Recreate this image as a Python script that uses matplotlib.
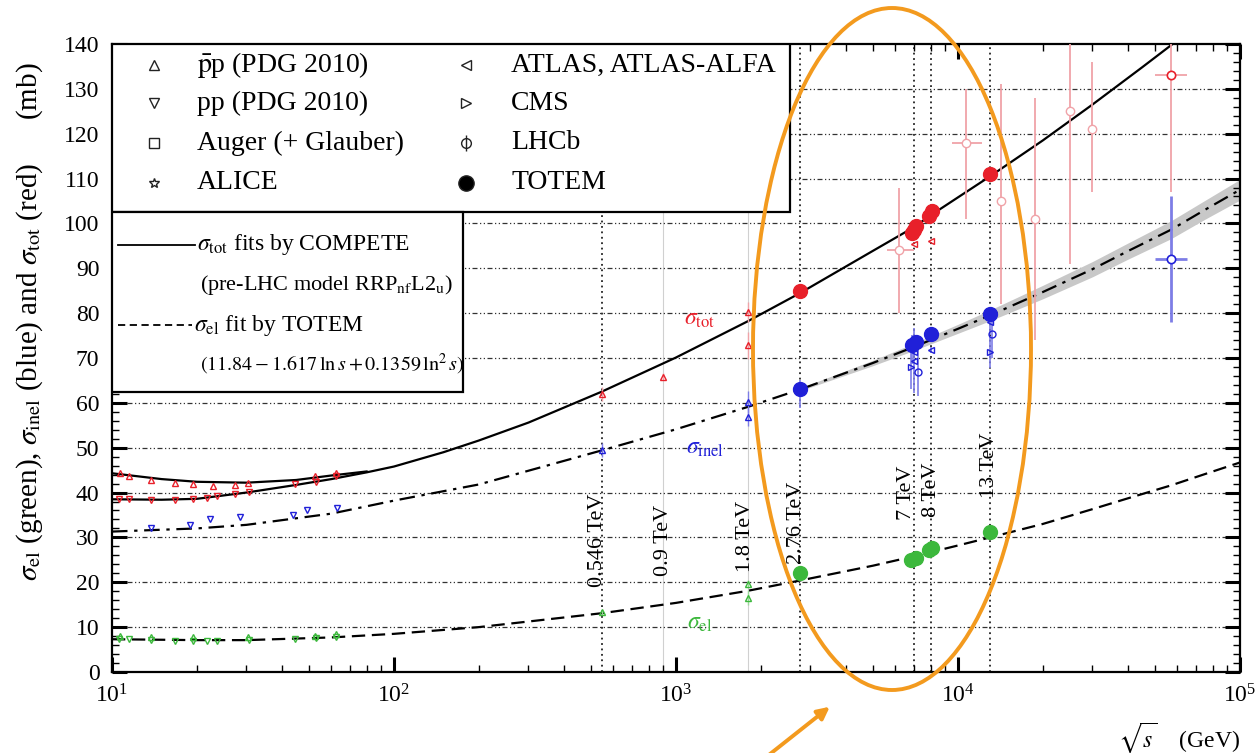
import matplotlib
matplotlib.use('Agg')  # no display
import matplotlib.pyplot as plt
from matplotlib.patches import Rectangle, Ellipse, FancyArrowPatch
from matplotlib.ticker import MultipleLocator, LogLocator
import numpy as np

plt.rcParams['font.family'] = ['Liberation Serif', 'DejaVu Serif']
plt.rcParams['mathtext.fontset'] = 'stix'

# ---- fit curves ----
fit_rs = [10, 20, 30, 60, 100, 200, 546, 1000, 1800, 2760, 5000, 7000, 10000,
          13000, 20000, 30000, 40000, 57000, 75000, 100000]
inel_fit = [31.3, 32.0, 32.8, 35.3, 38.2, 41.8, 49.4, 54.1, 59.1, 63.0, 68.9,
            72.5, 76.5, 79.5, 84.7, 89.8, 93.8, 98.6, 103.0, 107.5]
el_fit = [7.3, 7.1, 7.1, 7.7, 8.5, 10.0, 13.1, 15.4, 18.1, 20.4, 23.7, 25.8,
          28.2, 30.0, 33.0, 36.3, 38.7, 41.6, 44.1, 46.7]
inel_band_half = [0.3, 0.6, 0.8, 1.0, 1.2, 1.5, 1.7, 1.8, 2.0, 2.1, 2.3]  # from 2.76 TeV on

tot_fit_rs = [10, 15, 20, 30, 45, 60, 80, 100, 150, 200, 300, 546, 1000, 1800,
              2760, 5000, 7000, 8000, 10000, 13000, 20000, 30000, 45000, 60000]
tot_fit_pp = [38.5, 38.4, 38.6, 40.0, 41.7, 43.0, 44.5, 45.8, 49.0, 51.6, 55.6,
              62.5, 70.1, 78.2, 84.5, 93.9, 99.2, 101.8, 105.8, 110.5, 118.5,
              126.5, 134.8, 140.8]
tot_fit_pbarp_rs = [10, 15, 20, 30, 45, 60, 80]
tot_fit_pbarp = [44.3, 43.0, 42.4, 42.2, 42.8, 43.8, 44.7]

# ---- low energy data (PDG 2010) ----
pbarp_tot_rs = [10.7, 11.5, 13.8, 16.8, 19.4, 22.9, 27.4, 30.4, 52.6, 62.3]
pbarp_tot = [44.4, 43.6, 42.9, 42.2, 41.8, 41.5, 41.6, 42.1, 43.6, 44.3]
pp_tot_rs = [10.6, 11.5, 13.8, 16.8, 19.4, 21.7, 23.5, 27.4, 30.6, 44.7, 52.8, 62.5]
pp_tot = [38.6, 38.5, 38.4, 38.4, 38.6, 38.8, 39.3, 39.6, 40.1, 41.8, 42.4, 43.6]
pp_inel_rs = [13.8, 18.9, 22.3, 28.4, 43.8, 49.0, 62.7]
pp_inel = [32.0, 32.8, 34.0, 34.5, 35.0, 36.0, 36.5]
pp_el_rs = [10.6, 11.5, 13.8, 16.8, 19.4, 21.7, 23.5, 30.6, 44.7, 52.8, 62.5]
pp_el = [7.3, 7.3, 7.1, 7.0, 7.0, 7.0, 6.9, 7.2, 7.3, 7.5, 7.9]
pbarp_el_rs = [10.7, 13.8, 19.4, 30.4, 52.6, 62.3]
pbarp_el = [8.1, 7.8, 7.7, 7.9, 8.0, 8.4]

# SppS / Tevatron
coll_tot_rs = [546, 900, 1800, 1800]
coll_tot = [62.0, 65.8, 80.2, 72.8]
coll_tot_err = [1.5, 0.8, 2.2, 3.1]
coll_inel_rs = [546, 1800, 1800]
coll_inel = [49.5, 60.2, 56.8]
coll_inel_err = [1.5, 2.4, 2.0]
coll_el_rs = [546, 1800, 1800]
coll_el = [13.3, 19.7, 16.6]
coll_el_err = [0.6, 0.9, 1.6]

# cosmic rays
cr_rs = [6200, 10700, 14200, 18700, 24900, 30000]
cr_tot = [94, 118, 105, 101, 125, 121]
cr_err_lo = [14, 17, 23, 27, 34, 14]
cr_err_hi = [14, 12, 26, 27, 35, 15]
cr_rs_lo = [5600, 9500, 14200, 18700, 24900, 30000]
cr_rs_hi = [7000, 12200, 14200, 18700, 24900, 30000]

auger_rs = [57000]
auger_rs_lo = [50000]
auger_rs_hi = [65000]
auger_tot = [133]
auger_tot_err = [26]
auger_inel = [92]
auger_inel_err = [14]

# LHC experiments
atlas_tot_rs = [7000, 8000]
atlas_tot = [95.4, 96.1]
atlas_inel_rs = [7000, 7000, 8000, 13000]
atlas_inel = [69.4, 71.3, 71.7, 78.1]
atlas_inel_err = [7.3, 0.9, 0.7, 2.9]
cms_inel_rs = [6800, 13000]
cms_inel = [68.0, 71.3]
cms_inel_err = [5.0, 3.5]
alice_inel_rs = [2760, 6900]
alice_inel = [62.8, 73.2]
alice_err_lo = [4.0, 4.6]
alice_err_hi = [2.4, 2.0]
lhcb_inel_rs = [7200, 13200]
lhcb_inel = [66.9, 75.4]
lhcb_inel_err = [5.3, 5.4]

totem_tot_rs = [2760, 6900, 7000, 7100, 7900, 8100, 13000]
totem_tot = [85.0, 97.8, 98.6, 99.4, 101.6, 102.8, 111.0]
totem_inel_rs = [2760, 6900, 7100, 8000, 13000]
totem_inel = [63.0, 72.9, 73.5, 75.3, 79.8]
totem_el_rs = [2760, 6800, 7100, 7900, 8100, 13000]
totem_el = [22.0, 25.0, 25.4, 27.1, 27.7, 31.1]

energy_lines = [546, 2760, 7000, 8000, 13000]
energy_faint = [900, 1800]
energy_labels = ['0.546 TeV', '0.9 TeV', '1.8 TeV', '2.76 TeV', '7 TeV', '8 TeV', '13 TeV']
energy_label_rs = [529, 900, 1758, 2686, 6590, 8090, 12970]
energy_label_y = [29.4, 29.4, 30.3, 33.2, 40.0, 40.6, 46.0]

RED = '#e8202a'
PALE_RED = '#f0a3a8'
BLUE = '#2020d8'
PALE_BLUE = '#7d7de6'
GREEN = '#3cb83c'

fig = plt.figure(figsize=(12.55, 7.53), dpi=100)
ax = fig.add_axes([0.0892, 0.1076, 0.8988, 0.834])
ax.set_xscale('log')
ax.set_xlim(10, 1e5)
ax.set_ylim(0, 140)

# grid
for yv in range(10, 140, 10):
    ax.axhline(yv, ls=(0, (4, 2, 1, 2, 1, 2)), color='#333333', lw=0.9, zorder=0.5)
for e in energy_lines:
    ax.axvline(e, ls=(0, (1, 2)), color='#222222', lw=1.3, zorder=0.5)
for e in energy_faint:
    ax.axvline(e, color='#d0d0d0', lw=0.8, zorder=0.4)

# fits
band_rs = fit_rs[9:]
band_mid = np.array(inel_fit[9:])
ax.fill_between(band_rs, band_mid - np.array(inel_band_half), band_mid + np.array(inel_band_half),
                color='#c8c8c8', lw=0, zorder=1)
ax.plot(tot_fit_rs, tot_fit_pp, color='black', lw=1.6, zorder=2)
ax.plot(tot_fit_pbarp_rs, tot_fit_pbarp, color='black', lw=1.6, zorder=2)
ax.plot(fit_rs, inel_fit, color='black', lw=1.6, ls=(0, (7, 3, 1.5, 3)), zorder=2)
ax.plot(fit_rs, el_fit, color='black', lw=1.6, ls=(0, (6, 3)), zorder=2)

small = dict(ms=5, mfc='none', mew=1.0, ls='none', zorder=3)

# low energy
ax.plot(pbarp_tot_rs, pbarp_tot, marker='^', color=RED, **small)
ax.plot(pp_tot_rs, pp_tot, marker='v', color=RED, **small)
ax.plot(pp_inel_rs, pp_inel, marker='v', color=BLUE, **small)
ax.plot(pp_el_rs, pp_el, marker='v', color=GREEN, **small)
ax.plot(pbarp_el_rs, pbarp_el, marker='^', color=GREEN, **small)

# SppS / Tevatron
ax.errorbar(coll_tot_rs, coll_tot, yerr=coll_tot_err, marker='^', color=RED,
            ecolor=PALE_RED, elinewidth=1, capsize=0, **small)
ax.errorbar(coll_inel_rs, coll_inel, yerr=coll_inel_err, marker='^', color=BLUE,
            ecolor=PALE_BLUE, elinewidth=1, capsize=0, **small)
ax.errorbar(coll_el_rs, coll_el, yerr=coll_el_err, marker='^', color=GREEN,
            ecolor='#9ad89a', elinewidth=1, capsize=0, **small)

# cosmic rays
cr_xerr = [np.array(cr_rs) - np.array(cr_rs_lo), np.array(cr_rs_hi) - np.array(cr_rs)]
ax.errorbar(cr_rs, cr_tot, yerr=[cr_err_lo, cr_err_hi], xerr=cr_xerr, marker='o',
            color=PALE_RED, ecolor=PALE_RED, elinewidth=1.3, capsize=0, ms=6, mfc='white',
            mew=1.0, ls='none', zorder=3)
a_xerr = [np.array(auger_rs) - np.array(auger_rs_lo), np.array(auger_rs_hi) - np.array(auger_rs)]
ax.errorbar(auger_rs, auger_tot, yerr=auger_tot_err, xerr=a_xerr, marker='o', color=RED,
            ecolor=PALE_RED, elinewidth=1.3, capsize=0, ms=6, mfc='white', mew=1.2,
            ls='none', zorder=3)
ax.errorbar(auger_rs, auger_inel, yerr=auger_inel_err, xerr=a_xerr, marker='o', color=BLUE,
            ecolor=PALE_BLUE, elinewidth=2.0, capsize=0, ms=6, mfc='white', mew=1.2,
            ls='none', zorder=3)

# LHC
ax.plot(atlas_tot_rs, atlas_tot, marker='<', color=RED, **small)
ax.errorbar(atlas_inel_rs, atlas_inel, yerr=atlas_inel_err, marker='<', color=BLUE,
            ecolor=PALE_BLUE, elinewidth=1.2, capsize=0, **small)
ax.errorbar(cms_inel_rs, cms_inel, yerr=cms_inel_err, marker='>', color=BLUE,
            ecolor=PALE_BLUE, elinewidth=1.2, capsize=0, **small)
ax.errorbar(alice_inel_rs, alice_inel, yerr=[alice_err_lo, alice_err_hi], marker='*',
            color=BLUE, ecolor=PALE_BLUE, elinewidth=1.2, capsize=0, **small)
ax.errorbar(lhcb_inel_rs, lhcb_inel, yerr=lhcb_inel_err, marker='o', color=BLUE,
            ecolor=PALE_BLUE, elinewidth=1.2, capsize=0, **small)

ax.plot(totem_tot_rs, totem_tot, 'o', color=RED, ms=10, zorder=4)
ax.plot(totem_inel_rs, totem_inel, 'o', color=BLUE, ms=10, zorder=4)
ax.plot(totem_el_rs, totem_el, 'o', color=GREEN, ms=10, zorder=4)

# curve names
ax.text(1216, 78.5, r'$\sigma_{\rm tot}$', color=RED, fontsize=17, ha='center', va='center')
ax.text(1268, 49.9, r'$\sigma_{\rm inel}$', color=BLUE, fontsize=17, ha='center', va='center')
ax.text(1216, 10.9, r'$\sigma_{\rm el}$', color=GREEN, fontsize=17, ha='center', va='center')

for lab, xv, yv in zip(energy_labels, energy_label_rs, energy_label_y):
    ax.text(xv, yv, lab, rotation=90, ha='center', va='center', fontsize=16, zorder=3)

# legend boxes
ax.add_patch(Rectangle((0, 0.7325), 0.601, 0.2675, transform=ax.transAxes,
                       facecolor='white', edgecolor='black', lw=1.6, zorder=5))
ax.add_patch(Rectangle((0, 0.446), 0.311, 0.2865, transform=ax.transAxes,
                       facecolor='white', edgecolor='black', lw=1.6, zorder=5))

leg_rows = [0.9666, 0.906, 0.8424, 0.7787]
col1 = [('^', r'$\bar{\rm p}$p (PDG 2010)'), ('v', 'pp (PDG 2010)'),
        ('s', 'Auger (+ Glauber)'), ('*', 'ALICE')]
col2 = [('<', 'ATLAS, ATLAS-ALFA'), ('>', 'CMS'), ('o', 'LHCb'), ('o', 'TOTEM')]
for yv, (m, lab) in zip(leg_rows, col1):
    ax.plot([0.037], [yv], marker=m, ms=7, mfc='none', mec='#222222', mew=1.0,
            transform=ax.transAxes, zorder=6, clip_on=False)
    ax.text(0.075, yv, lab, transform=ax.transAxes, fontsize=20, va='center', zorder=6)
for yv, (m, lab) in zip(leg_rows, col2):
    filled = lab == 'TOTEM'
    ax.plot([0.314], [yv], marker=m, ms=11 if filled else 7,
            mfc='black' if filled else 'none', mec='#222222', mew=1.0,
            transform=ax.transAxes, zorder=6, clip_on=False)
    if lab == 'LHCb':
        ax.plot([0.314], [yv], marker='|', ms=12, mec='#222222', mew=1.0,
                transform=ax.transAxes, zorder=6, clip_on=False)
    ax.text(0.354, yv, lab, transform=ax.transAxes, fontsize=20, va='center', zorder=6)

ax.plot([0.005, 0.074], [0.68, 0.68], color='black', lw=1.3, transform=ax.transAxes, zorder=6)
ax.text(0.0755, 0.68, r'$\sigma_{\rm tot}$ fits by COMPETE', transform=ax.transAxes,
        fontsize=17, va='center', zorder=6)
ax.text(0.078, 0.616, r'(pre-LHC model RRP$_{\rm nf}$L2$_{\rm u}$)', transform=ax.transAxes,
        fontsize=16, va='center', zorder=6)
ax.plot([0.005, 0.071], [0.5525, 0.5525], color='black', lw=1.3, ls=(0, (4, 2.5)),
        transform=ax.transAxes, zorder=6)
ax.text(0.073, 0.5525, r'$\sigma_{\rm el}$ fit by TOTEM', transform=ax.transAxes,
        fontsize=17, va='center', zorder=6)
ax.text(0.078, 0.489, r'$(11.84 - 1.617\,\ln s + 0.1359\,\ln^2 s)$', transform=ax.transAxes,
        fontsize=14.5, va='center', zorder=6)

# axes styling
ax.yaxis.set_major_locator(MultipleLocator(10))
ax.yaxis.set_minor_locator(MultipleLocator(2))
ax.xaxis.set_major_locator(LogLocator(base=10))
ax.xaxis.set_minor_locator(LogLocator(base=10, subs=np.arange(2, 10)))
ax.tick_params(which='both', direction='in', top=True, right=True, labelsize=17)
ax.tick_params(which='major', length=11, width=2.2, pad=9)
ax.tick_params(which='minor', length=5, width=1)
for sp in ax.spines.values():
    sp.set_linewidth(1.6)

ax.text(-0.073, 0.557,
        r'$\sigma_{\rm el}$ (green), $\sigma_{\rm inel}$ (blue) and $\sigma_{\rm tot}$ (red)      (mb)',
        transform=ax.transAxes, rotation=90, ha='center', va='center', fontsize=21)
ax.text(1.0, -0.105, r'$\sqrt{s}$    (GeV)', transform=ax.transAxes, ha='right', va='center',
        fontsize=17)

# orange highlight
fig.add_artist(Ellipse((892 / 1255, 1 - 349 / 753), 278 / 1255, 682 / 753,
                       transform=fig.transFigure, fill=False, edgecolor='#f39a1e', lw=2.8,
                       zorder=10))
fig.add_artist(FancyArrowPatch((765 / 1255, 1 - 758 / 753), (832 / 1255, 1 - 705 / 753),
                               transform=fig.transFigure, arrowstyle='-|>', mutation_scale=18,
                               color='#f39a1e', lw=2.8, zorder=10))

fig.savefig('out.png', dpi=100)
